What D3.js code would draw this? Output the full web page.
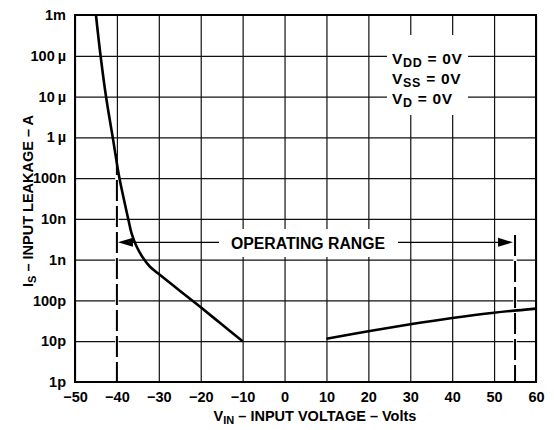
<!DOCTYPE html>
<html><head><meta charset="utf-8">
<script src="https://cdn.jsdelivr.net/npm/d3@7"></script>
<style>
body{margin:0;background:#fff;}
text{font-family:"Liberation Sans",Arial,Helvetica,sans-serif;font-weight:bold;fill:#000;}
</style>
</head><body>
<svg id="c" width="554" height="430"></svg>
<script>
// ---- data ----
const xTicks = [-50,-40,-30,-20,-10,0,10,20,30,40,50,60];
const yTicks = [1e-12,1e-11,1e-10,1e-9,1e-8,1e-7,1e-6,1e-5,1e-4,1e-3];
const yTickLabels = ["1p","10p","100p","1n","10n","100n","1\u2009\u00b5","10\u2009\u00b5","100\u2009\u00b5","1m"];
const leftV = [-45,-43.9,-42.6,-41.0,-39.4,-37.3,-36.5,-35.3,-33.7,-32.1,-29.7,-25,-20,-15,-10];
const leftI = [1e-3,1e-4,1e-5,1e-6,1e-7,1e-8,4.4e-9,2.1e-9,1.08e-9,6.7e-10,4.2e-10,1.73e-10,6.8e-11,2.6e-11,1e-11];
const rightV = [10,20,30,40,50,60];
const rightI = [1.15e-11,1.75e-11,2.6e-11,3.7e-11,5.0e-11,6.3e-11];
const rangeLimits = [-40,55];
const rangeLabel = "OPERATING RANGE";
const legendLines = [["V","DD"," = 0V"],["V","SS"," = 0V"],["V","D"," = 0V"]];

// ---- layout ----
const L=75,R=536,T=15,B=382;
const svg=d3.select("#c");
const x=d3.scaleLinear().domain([-50,60]).range([L,R]);
const y=d3.scaleLog().domain([1e-12,1e-3]).range([B,T]);

// gridlines
svg.append("g").attr("transform",`translate(0,${B})`)
  .call(d3.axisBottom(x).tickValues(xTicks).tickSize(-(B-T)).tickFormat(""))
  .call(g=>{g.select(".domain").remove();g.selectAll("line").attr("stroke","#111").attr("stroke-width",1.2);});
svg.append("g").attr("transform",`translate(${L},0)`)
  .call(d3.axisLeft(y).tickValues(yTicks).tickSize(-(R-L)).tickFormat(""))
  .call(g=>{g.select(".domain").remove();g.selectAll("line").attr("stroke","#111").attr("stroke-width",1.2);});

// tick labels
svg.append("g").attr("transform",`translate(0,${B})`)
  .call(d3.axisBottom(x).tickValues(xTicks).tickSize(0).tickPadding(10).tickFormat(d3.format("d")))
  .call(g=>{g.select(".domain").remove();g.selectAll("text").style("font-size","14.5px").attr("fill","#000");});
svg.append("g").attr("transform",`translate(${L},0)`)
  .call(d3.axisLeft(y).tickValues(yTicks).tickSize(0).tickPadding(9).tickFormat((d,i)=>yTickLabels[i]))
  .call(g=>{g.select(".domain").remove();g.selectAll("text").style("font-size","14.5px").attr("fill","#000");});

// white boxes behind annotations
svg.append("rect").attr("x",387).attr("y",35).attr("width",81).attr("height",80).attr("fill","#fff");
svg.append("rect").attr("x",222).attr("y",229).attr("width",173).attr("height",28).attr("fill","#fff");

// frame
svg.append("rect").attr("x",L).attr("y",T).attr("width",R-L).attr("height",B-T)
  .attr("fill","none").attr("stroke","#000").attr("stroke-width",2);

// dashed limit lines
const dashTop=[154,235];
rangeLimits.forEach((v,i)=>{
  svg.append("line").attr("x1",x(v)).attr("x2",x(v)).attr("y1",dashTop[i]).attr("y2",B-1)
    .attr("stroke","#fff").attr("stroke-width",3.5);
  svg.append("line").attr("x1",x(v)).attr("x2",x(v)).attr("y1",dashTop[i]).attr("y2",B-1)
    .attr("stroke","#000").attr("stroke-width",2).attr("stroke-dasharray","21,5");
});

// curves
const line=d3.line().x(d=>x(d[0])).y(d=>y(d[1])).curve(d3.curveCatmullRom.alpha(0.5));
svg.append("path").datum(leftV.map((v,i)=>[v,leftI[i]])).attr("d",line)
  .attr("fill","none").attr("stroke","#000").attr("stroke-width",2.6);
svg.append("path").datum(rightV.map((v,i)=>[v,rightI[i]])).attr("d",line)
  .attr("fill","none").attr("stroke","#000").attr("stroke-width",2.6);

// operating range arrows
const ay=242.3;
const xl=x(rangeLimits[0])+1, xr=x(rangeLimits[1])-2;
svg.append("line").attr("x1",xl+10).attr("x2",219).attr("y1",ay).attr("y2",ay).attr("stroke","#000").attr("stroke-width",1.3);
svg.append("line").attr("x1",398).attr("x2",xr-10).attr("y1",ay).attr("y2",ay).attr("stroke","#000").attr("stroke-width",1.3);
svg.append("path").attr("d",`M${xl},${ay}L${xl+15},${ay-4.5}L${xl+15},${ay+4.5}Z`).attr("fill","#000");
svg.append("path").attr("d",`M${xr},${ay}L${xr-15},${ay-4.5}L${xr-15},${ay+4.5}Z`).attr("fill","#000");
svg.append("text").attr("x",308).attr("y",249.3).attr("text-anchor","middle").style("font-size","15.8px").text(rangeLabel);

// legend
legendLines.forEach((p,i)=>{
  const t=svg.append("text").attr("x",392).attr("y",64+i*20).style("font-size","15.5px").style("letter-spacing","0.7px");
  t.append("tspan").text(p[0]);
  t.append("tspan").attr("dy",3).style("font-size","12.5px").text(p[1]);
  t.append("tspan").attr("dy",-3).text(p[2]);
});

// axis titles
const xt=svg.append("text").attr("x",315).attr("y",421).attr("text-anchor","middle").style("font-size","14.5px");
xt.append("tspan").text("V");
xt.append("tspan").attr("dy",3).style("font-size","11px").text("IN");
xt.append("tspan").attr("dy",-3).text(" \u2013 INPUT VOLTAGE \u2013 Volts");

const yt=svg.append("text").attr("transform","translate(33,201) rotate(-90)").attr("text-anchor","middle").style("font-size","14.5px");
yt.append("tspan").text("I");
yt.append("tspan").attr("dy",3).style("font-size","11px").text("S");
yt.append("tspan").attr("dy",-3).text(" \u2013 INPUT LEAKAGE \u2013 A");
</script>
</body></html>
